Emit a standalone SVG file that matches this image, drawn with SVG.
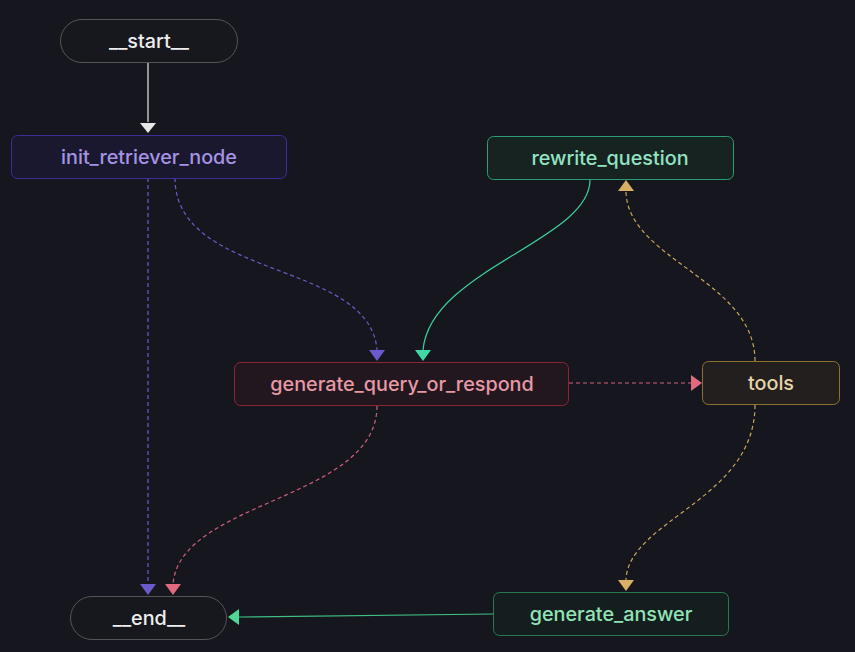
<svg xmlns="http://www.w3.org/2000/svg" width="855" height="652" viewBox="0 0 855 652">
<defs>
<style>
text{font-family:Inter,"Noto Sans",sans-serif;font-size:19.8px;font-weight:500;text-anchor:middle;dominant-baseline:central}
.e{fill:none;stroke-width:1.2}
.d{stroke-dasharray:4 3}
</style>
</defs>
<rect width="855" height="652" fill="#16171e"/>
<g id="connectors">
<path class="e" stroke="#e8e8e8" d="M148,62V122"/>
<path d="M140,123H156L148,133Z" fill="#e8e8e8"/>
<path class="e d" stroke="#6a5acd" d="M148,178V584"/>
<path d="M140,584H156L148,595Z" fill="#6a5acd"/>
<path class="e d" stroke="#6a5acd" d="M175,178C175,280 370,260 377,350"/>
<path d="M369,350H385L377,361Z" fill="#6a5acd"/>
<path class="e" stroke="#3fcf9c" d="M590,180C590,240 430,270 423,350"/>
<path d="M415,350H431L423,361Z" fill="#3fd8a4"/>
<path class="e d" stroke="#c9a55a" d="M755,361C755,280 628,260 626,192"/>
<path d="M618,191H634L626,180Z" fill="#d9b066"/>
<path class="e d" stroke="#c9a55a" d="M755,405C755,500 628,520 626,580"/>
<path d="M618,580H634L626,591Z" fill="#d9b066"/>
<path class="e d" stroke="#d0607a" d="M569,383H691"/>
<path d="M691,375V391L702,383Z" fill="#e06a80"/>
<path class="e d" stroke="#d0607a" d="M377,406C377,500 180,500 173,584"/>
<path d="M165,584H181L173,595Z" fill="#e06a80"/>
<path class="e" stroke="#3fbf84" d="M493,614L239,617"/>
<path d="M239,609V625L228,617Z" fill="#4fd894"/>
</g>
<g id="start">
<rect x="60.5" y="19.5" width="177" height="43" rx="21.5" fill="#17181d" stroke="#555"/>
<text x="149" y="41" fill="#eeeeee">__start__</text>
</g>
<g id="init_retriever_node">
<rect x="11.5" y="135.5" width="275" height="43" rx="6" fill="#1a182e" stroke="#3a2e98"/>
<text x="149" y="157" fill="#a694e4">init_retriever_node</text>
</g>
<g id="rewrite_question">
<rect x="487.5" y="136.5" width="246" height="43" rx="6" fill="#162320" stroke="#2a9d74"/>
<text x="610" y="158" fill="#92e4c4" font-weight="600">rewrite_question</text>
</g>
<g id="generate_query_or_respond">
<rect x="234.5" y="362.5" width="334" height="43" rx="6" fill="#23171f" stroke="#8a2536"/>
<text x="402" y="384" fill="#e69aa6">generate_query_or_respond</text>
</g>
<g id="tools">
<rect x="702.5" y="361.5" width="137" height="43" rx="6" fill="#221f1e" stroke="#8f7230"/>
<text x="771" y="383" fill="#e6d4aa" font-weight="600">tools</text>
</g>
<g id="end">
<rect x="70.5" y="596.5" width="156" height="43" rx="21.5" fill="#17181d" stroke="#555"/>
<text x="149" y="618" fill="#eeeeee">__end__</text>
</g>
<g id="generate_answer">
<rect x="493.5" y="592.5" width="235" height="43" rx="6" fill="#151e1f" stroke="#2a7a50"/>
<text x="611" y="614" fill="#92e4b6" font-weight="600">generate_answer</text>
</g>
</svg>
